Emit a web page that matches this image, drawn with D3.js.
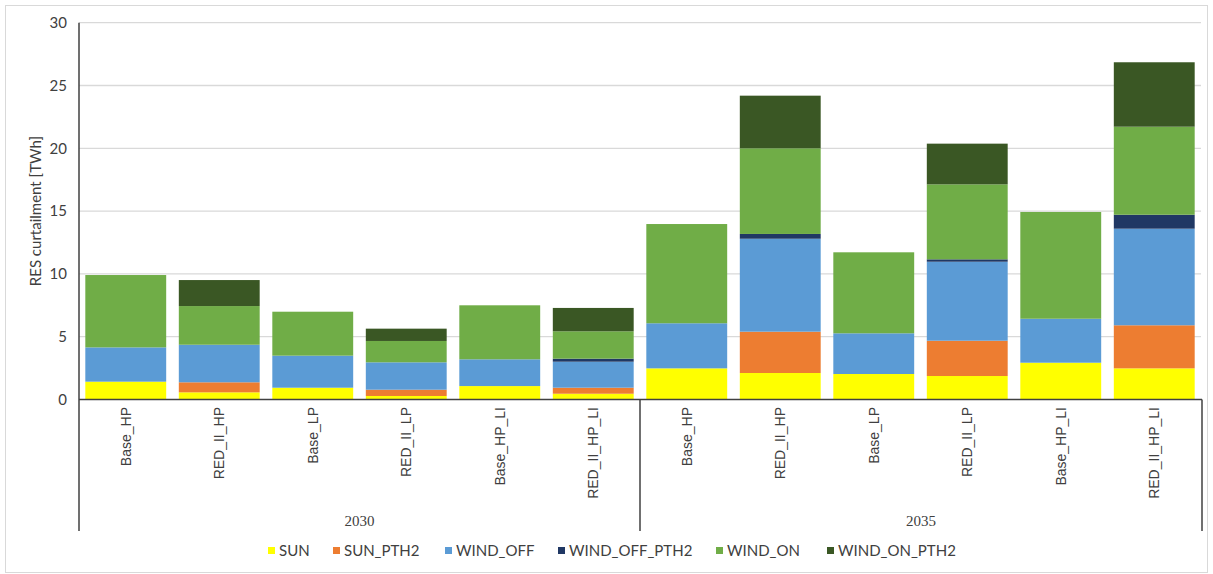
<!DOCTYPE html>
<html>
<head>
<meta charset="utf-8">
<script src="https://cdn.jsdelivr.net/npm/d3@7"></script>
<style>
  html, body { margin: 0; padding: 0; background: #fff; }
  svg { display: block; }
</style>
</head>
<body>
<svg id="chart" width="1213" height="574"></svg>
<script>
// Scenario labels, grouped by year
const scenarios = ["Base_HP", "RED_II_HP", "Base_LP", "RED_II_LP", "Base_HP_LI", "RED_II_HP_LI",
                   "Base_HP", "RED_II_HP", "Base_LP", "RED_II_LP", "Base_HP_LI", "RED_II_HP_LI"];
const years = ["2030", "2030", "2030", "2030", "2030", "2030",
               "2035", "2035", "2035", "2035", "2035", "2035"];
const yearGroups = ["2030", "2035"];

// RES curtailment per technology [TWh]
const SUN           = [1.42, 0.57, 0.94, 0.28, 1.07, 0.46, 2.48, 2.11, 2.03, 1.87, 2.93, 2.48];
const SUN_PTH2      = [0.00, 0.80, 0.00, 0.50, 0.00, 0.48, 0.00, 3.29, 0.00, 2.81, 0.00, 3.43];
const WIND_OFF      = [2.73, 2.99, 2.55, 2.18, 2.13, 2.07, 3.59, 7.40, 3.24, 6.29, 3.50, 7.69];
const WIND_OFF_PTH2 = [0.00, 0.00, 0.00, 0.00, 0.00, 0.24, 0.00, 0.38, 0.00, 0.19, 0.00, 1.11];
const WIND_ON       = [5.76, 3.08, 3.50, 1.70, 4.30, 2.18, 7.90, 6.82, 6.45, 5.97, 8.50, 7.01];
const WIND_ON_PTH2  = [0.00, 2.07, 0.00, 0.98, 0.00, 1.86, 0.00, 4.19, 0.00, 3.24, 0.00, 5.13];

const seriesNames = ["SUN", "SUN_PTH2", "WIND_OFF", "WIND_OFF_PTH2", "WIND_ON", "WIND_ON_PTH2"];
const seriesValues = [SUN, SUN_PTH2, WIND_OFF, WIND_OFF_PTH2, WIND_ON, WIND_ON_PTH2];
const seriesColors = ["#ffff00", "#ed7d31", "#5b9bd5", "#203864", "#70ad47", "#3a5724"];

const yTicks = [0, 5, 10, 15, 20, 25, 30];

// Build row table for d3.stack
const rows = scenarios.map((s, i) => {
  const r = { idx: i, scenario: s, year: years[i] };
  seriesNames.forEach((n, k) => { r[n] = seriesValues[k][i]; });
  return r;
});

const svg = d3.select("#chart");
const W = 1213, H = 574;
const plot = { left: 79, right: 1201, top: 22.7, bottom: 399.5 };

// Outer frame
svg.append("rect")
  .attr("x", 5.5).attr("y", 5.5)
  .attr("width", W - 11).attr("height", H - 7)
  .attr("fill", "#fff").attr("stroke", "#d9d9d9").attr("stroke-width", 1);

const x = d3.scaleBand()
  .domain(d3.range(scenarios.length))
  .range([plot.left, plot.right])
  .paddingInner(0.135)
  .paddingOuter(0.0675);

const y = d3.scaleLinear().domain([0, 30]).range([plot.bottom, plot.top]);

// Horizontal gridlines
svg.append("g")
  .selectAll("line")
  .data(yTicks.filter(t => t > 0))
  .join("line")
  .attr("x1", plot.left).attr("x2", plot.right)
  .attr("y1", d => y(d)).attr("y2", d => y(d))
  .attr("stroke", "#d9d9d9").attr("stroke-width", 1.3);

// Y axis tick labels
const yAxis = d3.axisLeft(y).tickValues(yTicks).tickSize(0).tickPadding(12);
const yg = svg.append("g").attr("transform", `translate(${plot.left},0)`).call(yAxis);
yg.select(".domain").remove();
yg.selectAll("text")
  .attr("font-family", "Lato, 'Open Sans', sans-serif")
  .attr("font-size", 15)
  .attr("fill", "#404040");

// Y axis title
svg.append("text")
  .attr("transform", `translate(36,${(plot.top + plot.bottom) / 2}) rotate(-90)`)
  .attr("text-anchor", "middle")
  .attr("dy", "0.35em")
  .attr("font-family", "Lato, 'Open Sans', sans-serif")
  .attr("font-size", 15)
  .attr("fill", "#404040")
  .text("RES curtailment [TWh]");

// Stacked bars
const stack = d3.stack().keys(seriesNames);
const stacked = stack(rows);

svg.append("g")
  .selectAll("g")
  .data(stacked)
  .join("g")
  .attr("fill", (d, i) => seriesColors[i])
  .selectAll("rect")
  .data(d => d.filter(p => p[1] - p[0] > 0))
  .join("rect")
  .attr("x", d => x(d.data.idx))
  .attr("width", x.bandwidth())
  .attr("y", d => y(d[1]))
  .attr("height", d => y(d[0]) - y(d[1]));

// Category axis line and group separators
const axisColor = "#404040";
const sepBottom = 531;
svg.append("line")
  .attr("x1", plot.left).attr("x2", plot.right + 1)
  .attr("y1", plot.bottom).attr("y2", plot.bottom)
  .attr("stroke", axisColor).attr("stroke-width", 1.5);

svg.append("line")
  .attr("x1", plot.left).attr("x2", plot.left)
  .attr("y1", plot.top).attr("y2", sepBottom)
  .attr("stroke", axisColor).attr("stroke-width", 1.5);

const groupEdges = yearGroups.map(g => {
  const idxs = rows.filter(r => r.year === g).map(r => r.idx);
  const first = d3.min(idxs), last = d3.max(idxs);
  const left = x(first) - x.step() * x.paddingInner() / 2;
  const right = x(last) + x.bandwidth() + x.step() * x.paddingInner() / 2;
  return { g, left, right };
});
groupEdges[0].left = plot.left;
groupEdges[groupEdges.length - 1].right = plot.right + 1;

svg.append("g")
  .selectAll("line")
  .data(groupEdges)
  .join("line")
  .attr("x1", d => d.right).attr("x2", d => d.right)
  .attr("y1", plot.bottom).attr("y2", sepBottom)
  .attr("stroke", axisColor).attr("stroke-width", 1.5);

// Scenario labels (rotated)
svg.append("g")
  .selectAll("text")
  .data(rows)
  .join("text")
  .attr("transform", d => `translate(${x(d.idx) + x.bandwidth() / 2},407) rotate(-90)`)
  .attr("text-anchor", "end")
  .attr("dy", "0.35em")
  .attr("font-family", "'Liberation Sans', Arial, sans-serif")
  .attr("font-size", 14)
  .attr("fill", "#404040")
  .text(d => d.scenario);

// Year labels
svg.append("g")
  .selectAll("text")
  .data(groupEdges)
  .join("text")
  .attr("x", d => (d.left + d.right) / 2)
  .attr("y", 526)
  .attr("text-anchor", "middle")
  .attr("font-family", "'Liberation Serif', 'DejaVu Serif', serif")
  .attr("font-size", 15)
  .attr("fill", "#404040")
  .text(d => d.g);

// Legend
const legend = svg.append("g").attr("transform", "translate(0,551)");
const legendX = [268, 333, 445, 558, 716, 827];
const items = legend.selectAll("g")
  .data(seriesNames)
  .join("g")
  .attr("transform", (d, i) => `translate(${legendX[i]},0)`);
items.append("rect")
  .attr("x", 0).attr("y", -4)
  .attr("width", 7).attr("height", 7)
  .attr("fill", (d, i) => seriesColors[i]);
items.append("text")
  .attr("x", 11)
  .attr("dy", "0.35em")
  .attr("font-family", "Lato, 'Open Sans', sans-serif")
  .attr("font-size", 15)
  .attr("fill", "#404040")
  .text(d => d);
</script>
</body>
</html>
